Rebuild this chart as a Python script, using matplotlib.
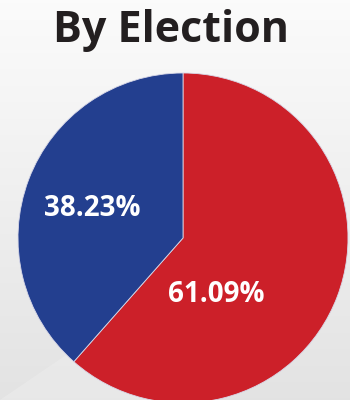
import matplotlib
matplotlib.use("Agg")
import matplotlib.pyplot as plt
import numpy as np

title = "By Election"
labels = ["Red", "Blue"]
values = [61.09, 38.23]
colors = ["#cc2029", "#233f8f"]
pct_labels = ["61.09%", "38.23%"]

fig = plt.figure(figsize=(3.5, 4.0), dpi=100)

# background gradient
bg = fig.add_axes([0, 0, 1, 1])
grad = np.linspace(0, 1, 256).reshape(-1, 1)
top = np.array([0.985, 0.985, 0.985])
bot = np.array([0.89, 0.89, 0.89])
img = top + (bot - top) * grad[..., None]
img = np.repeat(img, 2, axis=1)
bg.imshow(img, aspect="auto", extent=[0, 1, 0, 1], origin="upper")
bg.fill([0, 0.42, 0.55, 0], [0, 0.25, 0, 0], color="#ececec", alpha=0.6, lw=0)
bg.set_xlim(0, 1); bg.set_ylim(0, 1)
bg.axis("off")

fig.text(171 / 350, 1 - 31 / 400, title, ha="center", va="center", fontsize=31,
         fontweight="bold", family="Open Sans", color="#231f20")

# pie: center (183,238) px, radius 165 px
r = 165
cx, cy = 183, 400 - 238
ax = fig.add_axes([(cx - r) / 350, (cy - r) / 400, 2 * r / 350, 2 * r / 400])
wedges, _ = ax.pie(values, colors=colors, startangle=90, counterclock=False,
                   wedgeprops=dict(edgecolor="#d8d8e8", linewidth=0.6))
ax.set_aspect("auto")
ax.set_xlim(-1, 1); ax.set_ylim(-1, 1)

label_pos = [(216, 295), (92, 209)]
for (px, py), t in zip(label_pos, pct_labels):
    fig.text(px / 350, 1 - py / 400, t, ha="center", va="center", fontsize=20,
             fontweight="bold", family="Open Sans", color="white")

fig.savefig("out.png", dpi=100)
